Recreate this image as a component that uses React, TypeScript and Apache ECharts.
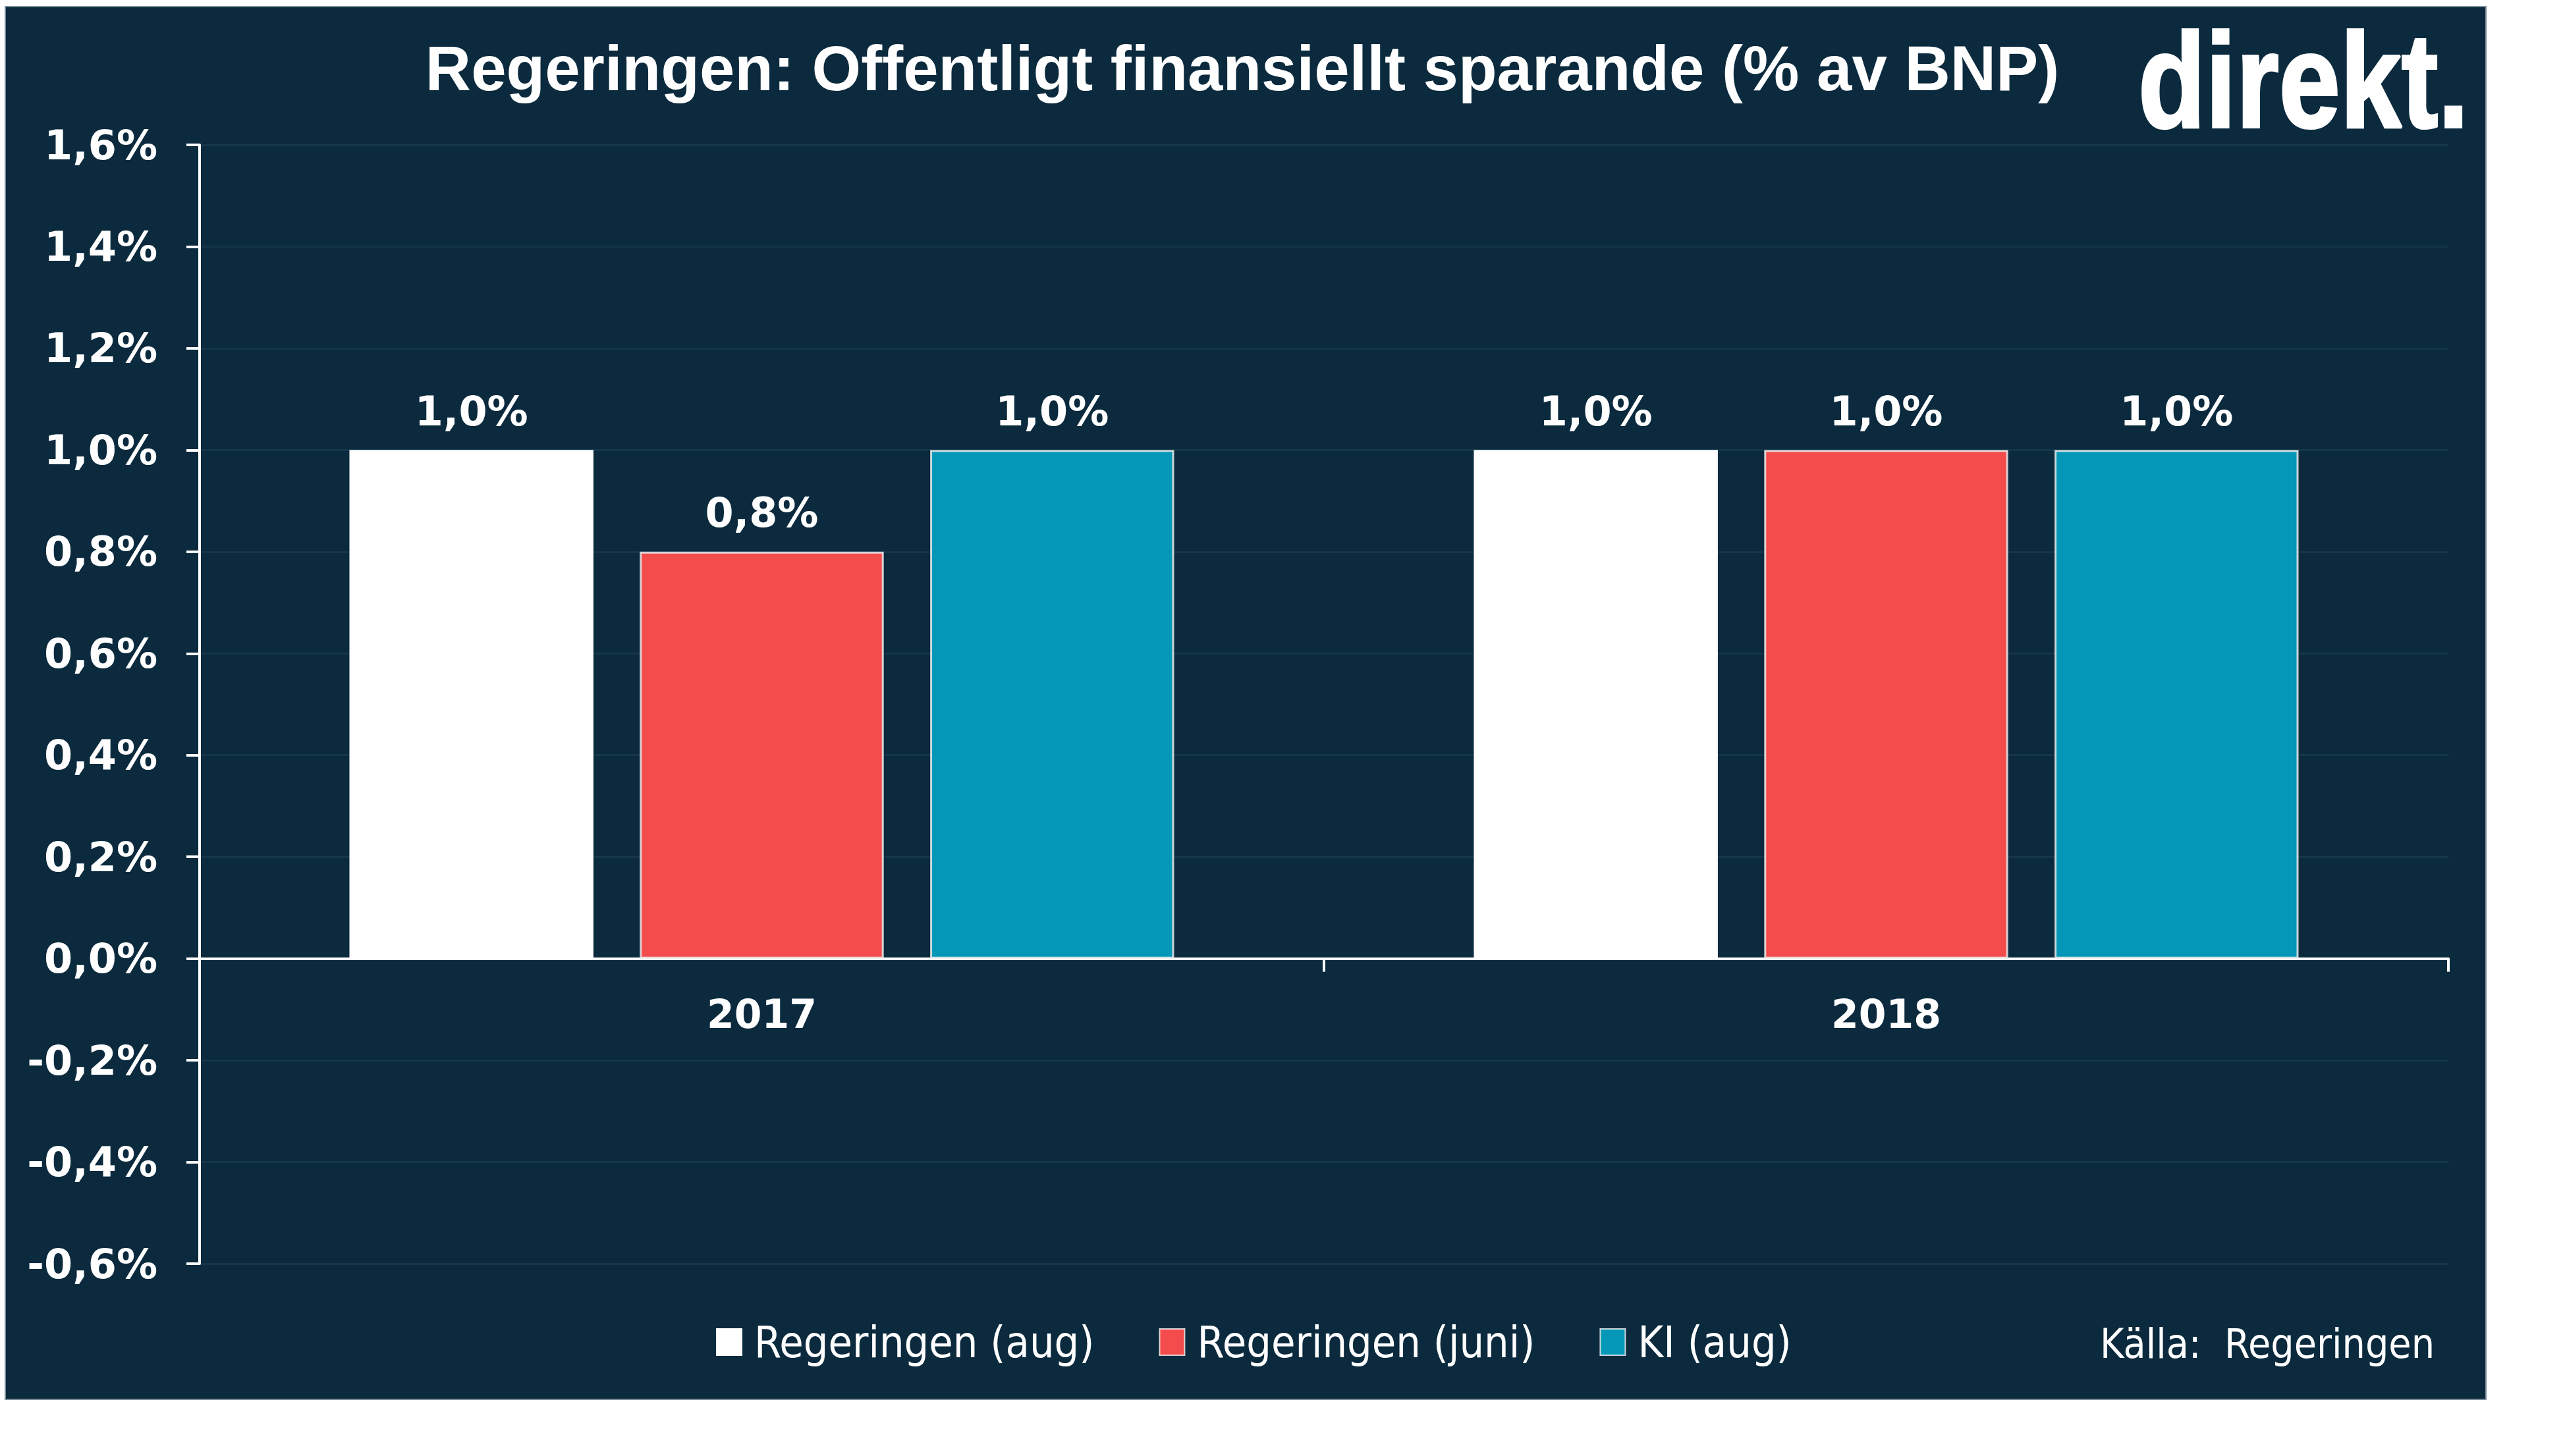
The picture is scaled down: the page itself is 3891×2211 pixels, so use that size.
import React, { useEffect, useRef } from "react";
import * as echarts from "echarts";

const categories = ["2017", "2018"];
const seriesNames = ["Regeringen (aug)", "Regeringen (juni)", "KI (aug)"];
const regeringenAug = [1.0, 1.0];
const regeringenJuni = [0.8, 1.0];
const kiAug = [1.0, 1.0];
const yMin = -0.6;
const yMax = 1.6;
const yInterval = 0.2;

const titleText = "Regeringen: Offentligt finansiellt sparande (% av BNP)";
const sourceText = "Källa:  Regeringen";
const logoText = "direkt.";

const BG = "#0b2a3e";
const COLORS = ["#ffffff", "#f44c4c", "#0497b7"];
const fmt = (v: number) => v.toFixed(1).replace(".", ",") + "%";

const GRID_TOP = 220;
const GRID_BOTTOM = 292;
const CHART_H = 2211;

export default function App() {
  const ref = useRef<HTMLDivElement>(null);
  useEffect(() => {
    if (!ref.current) return;
    const chart = echarts.init(ref.current, undefined, { renderer: "svg" });
    const seriesData = [regeringenAug, regeringenJuni, kiAug];
    const labelFont = "DejaVu Sans";
    const gridHeight = CHART_H - GRID_TOP - GRID_BOTTOM;
    // distance from grid bottom up to the zero line, derived from the value range
    const zeroOffset = ((0 - yMin) / (yMax - yMin)) * gridHeight;
    chart.setOption({
      animation: false,
      backgroundColor: "#ffffff",
      grid: { left: 303, right: 174, top: GRID_TOP, bottom: GRID_BOTTOM, containLabel: false },
      xAxis: [
        {
          type: "category",
          data: categories,
          axisLine: { show: true, onZero: true, lineStyle: { color: "#ffffff", width: 4 } },
          axisTick: { show: true, length: 20, lineStyle: { color: "#ffffff", width: 4 } },
          axisLabel: { show: false },
          splitLine: { show: false },
        },
        {
          type: "category",
          data: categories,
          position: "bottom",
          offset: -zeroOffset,
          axisLine: { show: false, onZero: false },
          axisTick: { show: false },
          axisLabel: {
            color: "#ffffff",
            fontFamily: labelFont,
            fontWeight: "bold",
            fontSize: 60,
            margin: 54,
          },
          splitLine: { show: false },
        },
      ],
      yAxis: {
        type: "value",
        min: yMin,
        max: yMax,
        interval: yInterval,
        axisLine: { show: true, lineStyle: { color: "#ffffff", width: 4 } },
        axisTick: { show: true, length: 20, lineStyle: { color: "#ffffff", width: 4 } },
        axisLabel: {
          color: "#ffffff",
          fontFamily: labelFont,
          fontWeight: "bold",
          fontSize: 62,
          margin: 64,
          formatter: (v: number) => fmt(v),
        },
        splitLine: { show: true, lineStyle: { color: "#14364b", width: 3 } },
      },
      legend: {
        data: seriesNames,
        left: 1087,
        top: 2005,
        padding: 0,
        icon: "rect",
        itemWidth: 38,
        itemHeight: 40,
        itemGap: 98,
        textStyle: {
          color: "#ffffff",
          fontFamily: "'DejaVu Sans Condensed', 'DejaVu Sans'",
          fontSize: 66,
          padding: [0, 0, 0, 14],
        },
      },
      series: seriesNames.map((name, i) => ({
        name,
        type: "bar",
        xAxisIndex: 0,
        data: seriesData[i],
        barWidth: "21.7%",
        barGap: "19%",
        itemStyle: {
          color: COLORS[i],
          borderColor: i === 0 ? "#ffffff" : "rgba(235,235,235,0.85)",
          borderWidth: 3,
        },
        label: {
          show: true,
          position: "top",
          distance: 28,
          color: "#ffffff",
          fontFamily: labelFont,
          fontWeight: "bold",
          fontSize: 62,
          formatter: (p: any) => fmt(p.value),
        },
      })),
      graphic: [
        {
          type: "rect",
          z: -10,
          shape: { x: 8, y: 10, width: 3766, height: 2115 },
          style: { fill: BG, stroke: "#7f8f9b", lineWidth: 2 },
        },
        {
          type: "text",
          x: 1886,
          y: 103,
          style: {
            text: titleText,
            fill: "#ffffff",
            fontFamily: "Liberation Sans",
            fontWeight: "bold",
            fontSize: 96,
            textAlign: "center",
            textVerticalAlign: "middle",
          },
        },
        {
          type: "text",
          x: 3246,
          y: 122,
          scaleX: 0.82,
          style: {
            text: logoText,
            fill: "#ffffff",
            stroke: "#ffffff",
            lineWidth: 4,
            fontFamily: "Liberation Sans",
            fontWeight: 900,
            fontSize: 204,
            textAlign: "left",
            textVerticalAlign: "middle",
          },
        },
        {
          type: "text",
          x: 3188,
          y: 2040,
          style: {
            text: sourceText,
            fill: "#ffffff",
            fontFamily: "'DejaVu Sans Condensed', 'DejaVu Sans'",
            fontSize: 62,
            textAlign: "left",
            textVerticalAlign: "middle",
          },
        },
      ],
    });
    return () => chart.dispose();
  }, []);
  return (
    <div
      ref={ref}
      style={{ position: "absolute", left: 0, top: 0, width: 3891, height: 2211 }}
    />
  );
}
